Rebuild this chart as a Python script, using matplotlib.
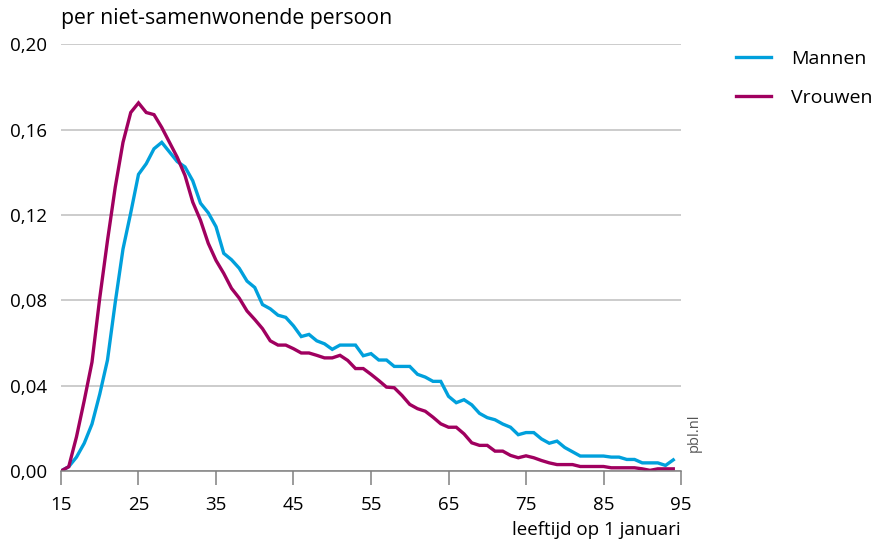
import matplotlib.pyplot as plt
import numpy as np

plt.rcParams['font.family'] = ['Open Sans', 'DejaVu Sans']

# leeftijd op 1 januari
ages = list(range(15, 95))

mannen = [0.000, 0.002, 0.0065, 0.013, 0.022, 0.036, 0.052, 0.079, 0.104, 0.121,
          0.139, 0.144, 0.151, 0.154, 0.1495, 0.145, 0.1425, 0.136, 0.1255, 0.121,
          0.1145, 0.102, 0.099, 0.095, 0.089, 0.086, 0.078, 0.076, 0.073, 0.072,
          0.068, 0.063, 0.064, 0.061, 0.0596, 0.057, 0.059, 0.059, 0.059, 0.054,
          0.055, 0.052, 0.052, 0.049, 0.049, 0.049, 0.0453, 0.044, 0.042, 0.042,
          0.035, 0.032, 0.0334, 0.031, 0.027, 0.025, 0.024, 0.022, 0.0205, 0.017,
          0.018, 0.018, 0.015, 0.013, 0.014, 0.011, 0.009, 0.007, 0.007, 0.007,
          0.007, 0.0065, 0.0065, 0.0054, 0.0054, 0.0038, 0.0038, 0.0038, 0.0026, 0.0052]

vrouwen = [0.000, 0.002, 0.016, 0.033, 0.051, 0.081, 0.108, 0.133, 0.154, 0.168,
           0.1725, 0.168, 0.167, 0.161, 0.154, 0.147, 0.1385, 0.126, 0.1175, 0.1067,
           0.0987, 0.0926, 0.0856, 0.081, 0.075, 0.071, 0.0667, 0.061, 0.059, 0.059,
           0.0573, 0.0553, 0.0553, 0.0542, 0.053, 0.053, 0.0542, 0.0518, 0.048, 0.048,
           0.0453, 0.0424, 0.0393, 0.039, 0.0354, 0.0312, 0.0292, 0.028, 0.0252, 0.0221,
           0.0205, 0.0205, 0.0174, 0.0132, 0.012, 0.012, 0.0093, 0.0093, 0.0073, 0.0062,
           0.0071, 0.0062, 0.0049, 0.0038, 0.003, 0.003, 0.003, 0.0021, 0.0021, 0.0021,
           0.0021, 0.0015, 0.0015, 0.0015, 0.0015, 0.001, 0.0003, 0.001, 0.001, 0.001]

yticks = [0.00, 0.04, 0.08, 0.12, 0.16, 0.20]
ytick_labels = ['0,00', '0,04', '0,08', '0,12', '0,16', '0,20']
xticks = [15, 25, 35, 45, 55, 65, 75, 85, 95]

blue = '#00a0dc'
purple = '#a0005f'
grey = '#bfbfbf'

fig = plt.figure(figsize=(8.75, 5.46), dpi=100)
ax = fig.add_axes([0.0697, 0.1374, 0.7086, 0.7816])

ax.plot(ages, mannen, color=blue, lw=2.4, label='Mannen', solid_joinstyle='miter')
ax.plot(ages, vrouwen, color=purple, lw=2.4, label='Vrouwen', solid_joinstyle='miter')

ax.set_xlim(15, 95)
ax.set_ylim(0, 0.20)
ax.set_yticks(yticks)
ax.set_yticklabels(ytick_labels)
ax.set_xticks(xticks)
ax.grid(axis='y', color=grey, lw=1.1)
ax.set_axisbelow(True)

for s in ['top', 'right', 'left']:
    ax.spines[s].set_visible(False)
ax.spines['bottom'].set_color('#808080')
ax.spines['bottom'].set_linewidth(1.1)
ax.tick_params(axis='x', length=10, width=1.1, color='#808080', labelsize=13.5, pad=8)
ax.tick_params(axis='y', length=0, labelsize=13.5, pad=10)

fig.text(0.0697, 0.966, 'per niet-samenwonende persoon', fontsize=15.3, va='center', ha='left')
fig.text(0.778, 0.03, 'leeftijd op 1 januari', fontsize=13.5, va='center', ha='right')
fig.text(0.793, 0.207, 'pbl.nl', fontsize=10.5, rotation=90, color='#555555', va='center', ha='center')

ax.legend(loc='upper left', bbox_to_anchor=(1.089, 0.986), frameon=False, fontsize=14,
          borderpad=0, borderaxespad=0,
          handlelength=1.8, handletextpad=1.0, labelspacing=1.05)

fig.savefig('out.png', dpi=100)
